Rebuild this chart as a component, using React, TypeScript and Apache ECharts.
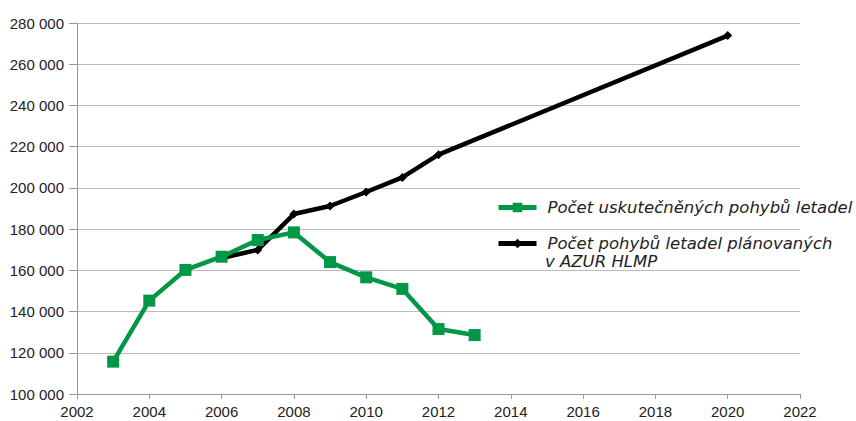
import React, { useEffect, useRef } from "react";
import * as echarts from "echarts";

const actualYears = [2003, 2004, 2005, 2006, 2007, 2008, 2009, 2010, 2011, 2012, 2013];
const actualValues = [115700, 145300, 160200, 166600, 174700, 178400, 164000, 156600, 151000, 131500, 128600];
const plannedYears = [2006, 2007, 2008, 2009, 2010, 2011, 2012, 2020];
const plannedValues = [166000, 169900, 187300, 191200, 198000, 205100, 216100, 273900];
const actualName = "Počet uskutečněných pohybů letadel";
const plannedName = "Počet pohybů letadel plánovaných";
const plannedNameLine2 = "v AZUR HLMP";

export default function App() {
  const ref = useRef<HTMLDivElement>(null);
  useEffect(() => {
    if (!ref.current) return;
    const chart = echarts.init(ref.current, null, { renderer: "svg" });
    const legendFont = {
      fontFamily: "DejaVu Sans",
      fontStyle: "italic",
      fontSize: 16.5,
      color: "#222",
    };
    chart.setOption({
      animation: false,
      backgroundColor: "#ffffff",
      grid: { left: 77, right: 56, top: 23, bottom: 27 },
      legend: {
        orient: "vertical",
        left: 491,
        top: 194,
        itemWidth: 38,
        itemHeight: 12,
        itemGap: 19,
        lineStyle: { width: 5 },
        textStyle: { ...legendFont, padding: [0, 0, 0, 6] },
        data: [actualName, plannedName],
      },
      graphic: [
        {
          type: "text",
          left: 545,
          top: 253,
          style: { text: plannedNameLine2, ...legendFont, fill: "#222" },
        },
      ],
      xAxis: {
        type: "value",
        min: 2002,
        max: 2022,
        interval: 2,
        axisLine: { lineStyle: { color: "#999", width: 1 } },
        axisTick: { show: true, length: 5, lineStyle: { color: "#999" } },
        axisLabel: {
          color: "#222",
          fontSize: 15,
          fontFamily: "Liberation Sans",
          margin: 10,
          formatter: (v: number) => String(v),
        },
        splitLine: { show: false },
      },
      yAxis: {
        type: "value",
        min: 100000,
        max: 280000,
        interval: 20000,
        axisLine: { show: true, lineStyle: { color: "#999", width: 1 } },
        axisTick: { show: true, length: 8, lineStyle: { color: "#999" } },
        axisLabel: {
          color: "#222",
          fontSize: 15,
          fontFamily: "Liberation Sans",
          margin: 13,
          formatter: (v: number) => String(v).replace(/\B(?=(\d{3})+(?!\d))/g, " "),
        },
        splitLine: { show: true, lineStyle: { color: "#bbb", width: 1 } },
      },
      series: [
        {
          name: plannedName,
          type: "line",
          data: plannedYears.map((y, i) => [y, plannedValues[i]]),
          symbol: "diamond",
          symbolSize: 9,
          lineStyle: { color: "#000", width: 4.5 },
          itemStyle: { color: "#000" },
          z: 2,
        },
        {
          name: actualName,
          type: "line",
          data: actualYears.map((y, i) => [y, actualValues[i]]),
          symbol: "rect",
          symbolSize: 12,
          lineStyle: { color: "#009847", width: 4.5 },
          itemStyle: { color: "#009847" },
          z: 3,
        },
      ],
    });
    return () => chart.dispose();
  }, []);
  return <div ref={ref} style={{ width: 856, height: 421, position: "absolute", left: 0, top: 0 }} />;
}
